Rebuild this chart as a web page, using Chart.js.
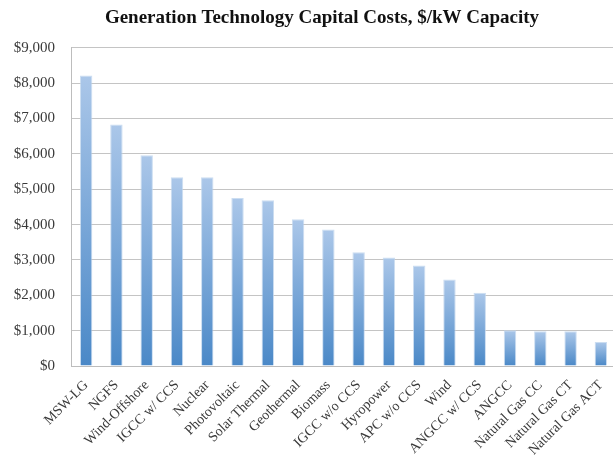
<!DOCTYPE html>
<html>
<head>
<meta charset="utf-8">
<script src="https://cdn.jsdelivr.net/npm/chart.js@4"></script>
<style>
  html, body { margin: 0; padding: 0; background: #fff; overflow: hidden; }
  #wrap { width: 644px; height: 462px; }
</style>
</head>
<body>
<div id="wrap"><canvas id="cost-chart"></canvas></div>
<script>
// technologies, left to right
const technologies = [
  'MSW-LG', 'NGFS', 'Wind-Offshore', 'IGCC w/ CCS', 'Nuclear', 'Photovoltaic',
  'Solar Thermal', 'Geothermal', 'Biomass', 'IGCC w/o CCS', 'Hyropower',
  'APC w/o CCS', 'Wind', 'ANGCC w/ CCS', 'ANGCC', 'Natural Gas CC',
  'Natural Gas CT', 'Natural Gas ACT'
];

// capital cost, $/kW
const capitalCosts = [
  8220, 6830, 5960, 5340, 5340, 4750,
  4690, 4150, 3860, 3220, 3070,
  2840, 2450, 2070, 1010, 980,
  980, 680
];

const yTicks = [0, 1000, 2000, 3000, 4000, 5000, 6000, 7000, 8000, 9000];

// each bar fades from light at top to darker blue at the base
function barGradient(context) {
  const chart = context.chart;
  const area = chart.chartArea;
  if (!area) return '#7aa7d8';
  const y = chart.scales.y;
  const top = y.getPixelForValue(capitalCosts[context.dataIndex]);
  const base = y.getPixelForValue(0);
  const g = chart.ctx.createLinearGradient(0, top, 0, base);
  g.addColorStop(0, '#abc7e9');
  g.addColorStop(1, '#4a88c7');
  return g;
}

new Chart(document.getElementById('cost-chart'), {
  type: 'bar',
  data: {
    labels: technologies,
    datasets: [{
      data: capitalCosts,
      backgroundColor: barGradient,
      borderColor: 'rgba(190, 212, 238, 0.8)',
      borderWidth: 1,
      categoryPercentage: 1,
      barPercentage: 0.41
    }]
  },
  options: {
    responsive: true,
    maintainAspectRatio: false,
    animation: false,
    plugins: {
      legend: { display: false },
      tooltip: { enabled: false },
      title: {
        display: true,
        text: 'Generation Technology Capital Costs, $/kW Capacity',
        color: '#111',
        font: { family: 'Liberation Serif', size: 19, weight: 'bold' },
        padding: { top: 7, bottom: 18 }
      }
    },
    scales: {
      x: {
        grid: { display: false, drawTicks: false },
        border: { color: '#bdbdbd', width: 1 },
        ticks: {
          color: '#3a3a3a',
          font: { family: 'Liberation Serif', size: 14 },
          maxRotation: 45,
          minRotation: 45,
          autoSkip: false,
          padding: 11
        },
        afterFit: (scale) => { scale.height = 96; }
      },
      y: {
        min: 0,
        max: 9000,
        afterBuildTicks: (scale) => { scale.ticks = yTicks.map(v => ({ value: v })); },
        grid: { color: '#c4c4c4', lineWidth: 1, drawTicks: false },
        border: { color: '#bdbdbd', width: 1 },
        ticks: {
          color: '#3a3a3a',
          font: { family: 'Liberation Serif', size: 15 },
          padding: 16,
          callback: (v) => '$' + v.toLocaleString('en-US')
        },
        afterFit: (scale) => { scale.width = 71; }
      },
      // empty spacer on the right so the plot runs past the cropped edge
      spacer: {
        position: 'right',
        min: 0,
        max: 9000,
        grid: { display: false, drawTicks: false },
        border: { display: false },
        ticks: { display: false },
        afterFit: (scale) => { scale.width = 28; }
      }
    }
  }
});
</script>
</body>
</html>
